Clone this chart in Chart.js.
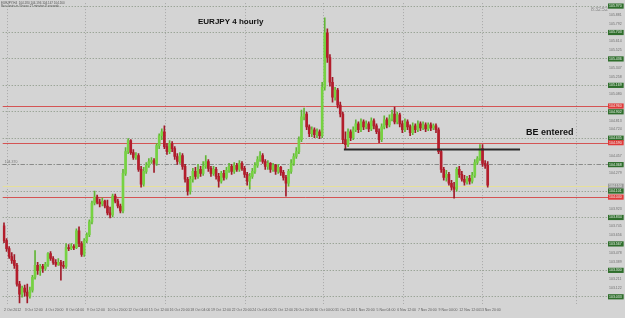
<!DOCTYPE html>
<html>
<head>
<meta charset="utf-8">
<title>EURJPY 4 hourly</title>
<script src="https://cdn.jsdelivr.net/npm/chart.js@4.4.1/dist/chart.umd.min.js"></script>
<style>
  html, body { margin: 0; padding: 0; background: #d4d4d4; overflow: hidden; }
  #chart { display: block; background: #d4d4d4; }
</style>
</head>
<body>
<canvas id="chart" width="625" height="318"></canvas>
<script>
// 4H candles, open of each bar = close of the previous one
const firstOpen = 103.75;
const closes = [103.60,103.52,103.44,103.40,103.35,103.16,103.06,103.12,103.08,103.04,
  103.10,103.23,103.35,103.30,103.34,103.32,103.36,103.47,103.42,103.38,
  103.36,103.38,103.35,103.34,103.53,103.52,103.54,103.53,103.70,103.57,
  103.46,103.60,103.66,103.79,103.98,104.04,103.99,103.97,104.00,103.95,
  103.88,103.86,104.05,104.00,103.95,103.90,104.28,104.50,104.61,104.49,
  104.44,104.46,104.32,104.17,104.30,104.36,104.40,104.41,104.38,104.56,
  104.66,104.70,104.55,104.50,104.58,104.53,104.45,104.40,104.46,104.35,
  104.22,104.10,104.22,104.30,104.25,104.32,104.28,104.35,104.40,104.33,
  104.28,104.32,104.25,104.20,104.28,104.24,104.31,104.35,104.30,104.36,
  104.32,104.38,104.33,104.27,104.20,104.25,104.30,104.36,104.42,104.46,
  104.40,104.35,104.38,104.32,104.36,104.30,104.34,104.29,104.24,104.18,
  104.30,104.38,104.45,104.50,104.62,104.85,104.88,104.75,104.68,104.72,
  104.67,104.70,104.66,105.15,105.70,105.45,105.20,105.05,105.12,104.97,
  104.88,104.62,104.57,104.70,104.64,104.72,104.78,104.72,104.80,104.75,
  104.78,104.73,104.81,104.76,104.70,104.62,104.75,104.82,104.77,104.83,
  104.88,104.80,104.87,104.78,104.72,104.80,104.75,104.69,104.76,104.72,
  104.78,104.74,104.77,104.73,104.77,104.74,104.76,104.72,104.50,104.32,
  104.24,104.27,104.18,104.14,104.12,104.32,104.27,104.22,104.19,104.23,
  104.20,104.26,104.39,104.43,104.53,104.38,104.36,104.16];
const highs = [103.78,103.62,103.54,103.48,103.46,103.37,103.19,103.14,103.15,103.16,
  103.13,103.25,103.50,103.38,103.36,103.36,103.38,103.48,103.49,103.44,
  103.41,103.42,103.40,103.39,103.57,103.56,103.57,103.56,103.72,103.74,
  103.59,103.62,103.68,103.81,104.00,104.10,104.06,104.02,104.03,104.01,
  104.01,103.94,104.07,104.07,104.02,103.97,104.32,104.54,104.63,104.62,
  104.52,104.49,104.48,104.35,104.34,104.39,104.43,104.44,104.43,104.58,
  104.68,104.73,104.76,104.58,104.61,104.60,104.55,104.48,104.49,104.48,
  104.37,104.24,104.25,104.33,104.34,104.37,104.35,104.40,104.46,104.42,
  104.35,104.35,104.34,104.28,104.30,104.31,104.34,104.38,104.37,104.39,
  104.38,104.41,104.40,104.35,104.29,104.28,104.33,104.39,104.45,104.50,
  104.48,104.42,104.41,104.39,104.38,104.37,104.37,104.35,104.31,104.26,
  104.32,104.42,104.48,104.54,104.65,104.92,104.94,104.90,104.77,104.75,
  104.74,104.73,104.72,105.20,105.85,105.74,105.48,105.25,105.15,105.14,
  105.00,104.90,104.70,104.73,104.72,104.75,104.82,104.80,104.83,104.82,
  104.81,104.80,104.84,104.83,104.78,104.73,104.78,104.86,104.84,104.87,
  104.92,104.95,104.90,104.89,104.81,104.83,104.82,104.77,104.79,104.78,
  104.81,104.80,104.80,104.79,104.79,104.79,104.78,104.78,104.74,104.52,
  104.34,104.31,104.29,104.21,104.19,104.34,104.35,104.30,104.26,104.25,
  104.26,104.29,104.42,104.45,104.57,104.57,104.41,104.40];
const lows = [103.58,103.49,103.42,103.37,103.32,103.14,102.97,103.03,103.04,102.97,
  103.02,103.08,103.21,103.26,103.25,103.28,103.30,103.34,103.40,103.36,
  103.34,103.35,103.20,103.32,103.32,103.50,103.51,103.51,103.52,103.54,
  103.44,103.44,103.58,103.64,103.77,103.96,103.97,103.94,103.95,103.93,
  103.86,103.83,103.84,103.98,103.93,103.88,103.88,104.26,104.48,104.47,
  104.42,104.42,104.30,104.14,104.15,104.28,104.34,104.38,104.29,104.36,
  104.53,104.62,104.53,104.47,104.48,104.50,104.42,104.37,104.38,104.32,
  104.19,104.06,104.07,104.19,104.22,104.23,104.25,104.26,104.33,104.30,
  104.25,104.26,104.22,104.14,104.18,104.21,104.22,104.29,104.27,104.28,
  104.30,104.30,104.31,104.24,104.16,104.12,104.23,104.28,104.34,104.40,
  104.38,104.32,104.32,104.29,104.30,104.27,104.28,104.26,104.21,104.05,
  104.15,104.28,104.36,104.43,104.48,104.60,104.82,104.72,104.65,104.65,
  104.64,104.64,104.63,104.64,105.12,105.40,105.16,105.00,105.02,104.94,
  104.85,104.58,104.52,104.55,104.61,104.62,104.70,104.69,104.70,104.72,
  104.73,104.70,104.71,104.73,104.68,104.59,104.60,104.73,104.74,104.75,
  104.81,104.78,104.78,104.75,104.69,104.70,104.72,104.66,104.67,104.69,
  104.70,104.71,104.72,104.70,104.71,104.71,104.72,104.69,104.48,104.29,
  104.21,104.20,104.16,104.11,104.03,104.10,104.24,104.20,104.16,104.17,
  104.17,104.18,104.24,104.37,104.41,104.35,104.33,104.14];

// time axis: one label every 8 bars, empty slots to the right (chart shift)
const timeTicks = ['2 Oct 2012','3 Oct 12:00','4 Oct 20:00','8 Oct 04:00','9 Oct 12:00','10 Oct 20:00',
  '12 Oct 04:00','15 Oct 12:00','16 Oct 20:00','18 Oct 04:00','19 Oct 12:00','22 Oct 20:00',
  '24 Oct 04:00','25 Oct 12:00','26 Oct 20:00','30 Oct 04:00','31 Oct 12:00','1 Nov 20:00',
  '5 Nov 04:00','6 Nov 12:00','7 Nov 20:00','9 Nov 04:00','12 Nov 12:00','13 Nov 20:00'];
const slotCount = 234;
const labelEvery = 8;

// price axis
const priceMin = 102.96;
const priceMax = 106.00;
const gridPrices = [105.970,105.703,105.436,105.169,104.902,104.635,104.368,104.101,103.834,103.567,103.300,103.033];
const minorPrices = [105.881,105.792,105.614,105.525,105.347,105.258,105.080,104.813,104.724,104.457,
  104.279,103.923,103.745,103.656,103.478,103.389,103.211,103.122];
const redLevels = [104.96, 104.59, 104.04];
const yellowLevel = 104.15;
const bidLevel = 104.37;
const beLevel = 104.52;
const beFromSlot = 131.4;
const beToSlot = 199.5;
const vGridSlots = [1, 31.4, 62.2, 93, 123.3, 154.1, 184.9, 221];

const titleText = 'EURJPY 4 hourly';
const noteText = 'BE entered';
const infoLines = ['EURJPY,H4  104.180 104.196 104.147 104.160', 'Bar closes in 3 hours 27 minutes 8 seconds'];
const clockText = '8:32:52';

const upColor = '#76d242';
const downColor = '#b31d2c';
const upWick = '#62b636';
const downWick = '#a01b29';
const fontFamily = '"Liberation Sans", Arial, sans-serif';

const opens = [firstOpen].concat(closes.slice(0, -1));
const labels = [];
for (let i = 0; i < slotCount; i++) {
    labels.push(i % labelEvery === 0 && timeTicks[i / labelEvery] ? timeTicks[i / labelEvery] : '');
}
const isUp = closes.map((c, i) => c >= opens[i]);
const bodies = closes.map((c, i) => [opens[i], c]);
const wicks = lows.map((l, i) => [l, highs[i]]);

const majorSet = new Set(gridPrices);
const redSet = new Set(redLevels);
const yTickValues = gridPrices.concat(minorPrices, redLevels, [yellowLevel]).sort((a, b) => b - a);

const mt4Overlay = {
    id: 'mt4Overlay',
    beforeDraw(chart) {
        const { ctx, chartArea: a, scales: { x } } = chart;
        ctx.save();
        ctx.fillStyle = '#d4d4d4';
        ctx.fillRect(0, 0, chart.width, chart.height);
        ctx.strokeStyle = '#a8a8a8';
        ctx.lineWidth = 1;
        ctx.setLineDash([1, 2]);
        vGridSlots.forEach(s => {
            const px = Math.round(x.getPixelForValue(s)) + 0.5;
            ctx.beginPath();
            ctx.moveTo(px, a.top);
            ctx.lineTo(px, a.bottom);
            ctx.stroke();
        });
        ctx.restore();
    },
    beforeDatasetsDraw(chart) {
        const { ctx, chartArea: a, scales: { y } } = chart;
        const hline = (v, color, dash) => {
            const py = Math.round(y.getPixelForValue(v)) + 0.5;
            ctx.strokeStyle = color;
            ctx.setLineDash(dash);
            ctx.beginPath();
            ctx.moveTo(a.left, py);
            ctx.lineTo(a.right, py);
            ctx.stroke();
        };
        ctx.save();
        ctx.lineWidth = 1;
        hline(yellowLevel, '#e6df9a', []);
        hline(bidLevel, '#8a8a8a', [4, 2, 1, 2]);
        redLevels.forEach(v => hline(v, '#d45454', []));
        ctx.setLineDash([]);
        ctx.fillStyle = '#777';
        ctx.font = '3.5px ' + fontFamily;
        ctx.fillText(bidLevel.toFixed(3), a.left + 2, y.getPixelForValue(bidLevel) - 1);
        ctx.restore();
    },
    afterDatasetsDraw(chart) {
        const { ctx, scales: { x, y } } = chart;
        ctx.save();
        const py = y.getPixelForValue(beLevel);
        ctx.strokeStyle = '#2b2b2b';
        ctx.lineWidth = 2;
        ctx.beginPath();
        ctx.moveTo(x.getPixelForValue(beFromSlot), py);
        ctx.lineTo(x.getPixelForValue(beToSlot), py);
        ctx.stroke();

        ctx.fillStyle = '#111';
        ctx.font = 'bold 8px ' + fontFamily;
        ctx.fillText(titleText, 198, 24);
        ctx.font = 'bold 9px ' + fontFamily;
        ctx.fillText(noteText, 526, 135);

        ctx.fillStyle = '#555';
        ctx.font = '3px ' + fontFamily;
        ctx.fillText(infoLines[0], 1, 3.5);
        ctx.fillText(infoLines[1], 1, 7);
        ctx.fillStyle = '#8a8a8a';
        ctx.font = '5px ' + fontFamily;
        ctx.fillText(clockText, 591, 11);
        ctx.restore();
    }
};

new Chart(document.getElementById('chart'), {
    type: 'bar',
    data: {
        labels: labels,
        datasets: [
            {
                data: bodies,
                backgroundColor: isUp.map(u => u ? upColor : downColor),
                barThickness: 2,
                borderWidth: 0,
                grouped: false,
                order: 0
            },
            {
                data: wicks,
                backgroundColor: isUp.map(u => u ? upWick : downWick),
                barThickness: 1,
                borderWidth: 0,
                grouped: false,
                order: 1
            }
        ]
    },
    options: {
        responsive: false,
        animation: false,
        layout: { padding: 0 },
        plugins: {
            legend: { display: false },
            tooltip: { enabled: false },
            title: { display: false }
        },
        scales: {
            x: {
                type: 'category',
                offset: true,
                afterFit: s => { s.height = 14; },
                grid: { display: false, drawTicks: false },
                border: { display: false },
                ticks: {
                    autoSkip: false,
                    maxRotation: 0,
                    minRotation: 0,
                    align: 'start',
                    padding: 4,
                    color: '#606060',
                    font: { size: 3.5, family: fontFamily }
                }
            },
            y: {
                position: 'right',
                min: priceMin,
                max: priceMax,
                afterFit: s => { s.width = 17; },
                afterBuildTicks: s => { s.ticks = yTickValues.map(v => ({ value: v })); },
                grid: {
                    drawTicks: false,
                    lineWidth: 1,
                    color: c => (c.tick && majorSet.has(c.tick.value)) ? '#84927f' : 'rgba(0,0,0,0)'
                },
                border: { display: false, dash: [1, 2] },
                ticks: {
                    autoSkip: false,
                    padding: 1,
                    font: { size: 3.5, family: fontFamily },
                    callback: v => Number(v).toFixed(3),
                    showLabelBackdrop: true,
                    backdropPadding: { left: 1, right: 2, top: 0.5, bottom: 0.5 },
                    backdropColor: c => {
                        const v = c.tick && c.tick.value;
                        if (redSet.has(v)) return '#e03a3a';
                        if (majorSet.has(v)) return '#2f6e2c';
                        if (v === yellowLevel) return '#9a9a9a';
                        return 'rgba(0,0,0,0)';
                    },
                    color: c => {
                        const v = c.tick && c.tick.value;
                        return (redSet.has(v) || majorSet.has(v) || v === yellowLevel) ? '#eef4ee' : '#6e6e6e';
                    }
                }
            }
        }
    },
    plugins: [mt4Overlay]
});
</script>
</body>
</html>
